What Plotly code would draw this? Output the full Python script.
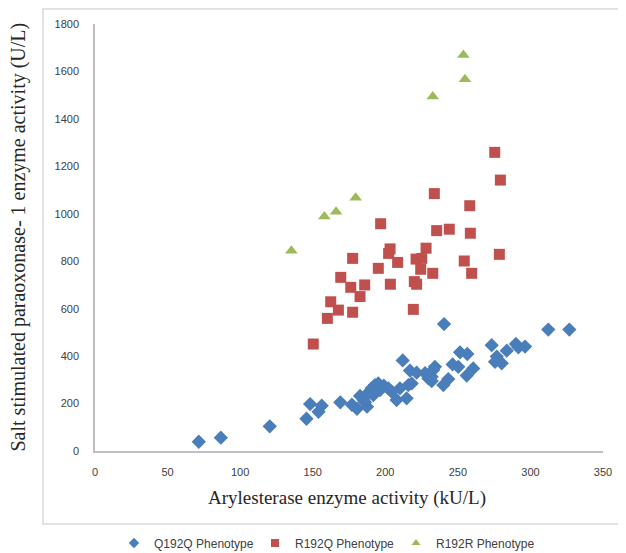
import plotly.graph_objects as go

# Q192Q phenotype (blue diamonds)
q192q_x = [71.5, 86.7, 120.4, 145.7, 148.2, 154.0, 156.2, 169.0, 177.0, 180.5,
           182.6, 185.0, 187.4, 188.3, 190.6, 192.9, 195.2, 191.8, 196.4, 202.1,
           204.4, 207.8, 210.1, 214.7, 215.9, 218.2, 212.0, 217.0, 221.6, 227.4,
           229.7, 232.0, 234.2, 231.9, 240.5, 312.3, 326.8, 273.3, 283.7, 290.0,
           291.7, 296.3, 276.8, 275.6, 280.2, 251.5, 256.5, 246.4, 250.3, 260.6,
           256.1, 243.4, 240.0, 199.0, 186.0, 233.0]
q192q_y = [39, 56, 104, 136, 198, 165, 191, 205, 195, 178,
           232, 215, 187, 246, 264, 278, 285, 236, 257, 264,
           250, 215, 264, 222, 278, 285, 382, 339, 330, 328,
           306, 295, 355, 313, 535, 512, 512, 446, 423, 451,
           437, 440, 398, 376, 370, 416, 409, 365, 355, 348,
           318, 303, 278, 275, 205, 341]

# R192Q phenotype (red squares)
r192q_x = [275.4, 279.3, 233.8, 258.2, 196.8, 235.4, 244.1, 258.6, 203.3, 202.3,
           228.1, 177.5, 278.6, 208.5, 195.2, 221.2, 225.1, 224.4, 232.7, 254.4,
           259.5, 169.3, 176.2, 185.8, 203.5, 220.0, 221.6, 182.6, 162.4, 167.7,
           177.5, 160.1, 219.3, 150.4]
r192q_y = [1259, 1142, 1085, 1034, 958, 929, 935, 918, 852, 833,
           855, 812, 829, 795, 770, 809, 812, 766, 749, 801,
           749, 732, 690, 700, 703, 714, 703, 651, 629, 594,
           585, 559, 597, 451]

# R192R phenotype (green triangles)
r192r_x = [135.3, 158.0, 166.1, 179.6, 232.7, 254.9, 253.8]
r192r_y = [844, 988, 1009, 1068, 1494, 1567, 1669]

series_names = ["Q192Q Phenotype", "R192Q Phenotype", "R192R Phenotype"]
series_colors = ["#4A7EBB", "#C0504D", "#9BBB59"]
series_symbols = ["diamond", "square", "triangle-up"]

x_ticks = [0, 50, 100, 150, 200, 250, 300, 350]
y_ticks = [0, 200, 400, 600, 800, 1000, 1200, 1400, 1600, 1800]

fig = go.Figure()
for xs, ys, name, col, sym in zip([q192q_x, r192q_x, r192r_x], [q192q_y, r192q_y, r192r_y],
                                  series_names, series_colors, series_symbols):
    fig.add_trace(go.Scatter(x=xs, y=ys, mode="markers", name=name, showlegend=False,
                             legendgroup=name,
                             marker=dict(symbol=sym, size=11, color=col)))
for name, col, sym in zip(series_names, series_colors, series_symbols):
    # legend-only entries with the smaller legend symbol size
    fig.add_trace(go.Scatter(x=[None], y=[None], mode="markers", name=name,
                             legendgroup=name,
                             marker=dict(symbol=sym, size=8, color=col)))

axis_font = dict(family="Liberation Sans, Arial, sans-serif", size=11, color="#404040")

W, H = 618, 545
L, R, T, B = 87, 23, 16, 102
plot_h = H - T - B

fig.update_layout(
    width=W, height=H,
    margin=dict(l=L, r=R, t=T, b=B),
    paper_bgcolor="white", plot_bgcolor="white",
    showlegend=True,
    legend=dict(orientation="h", x=(106 - L) / (W - L - R), xanchor="left",
                yref="container", y=(H - 535) / H, yanchor="middle",
                font=dict(family="Liberation Sans, Arial, sans-serif", size=12, color="#404040"),
                itemwidth=30, entrywidth=96, bgcolor="rgba(0,0,0,0)"),
    xaxis=dict(range=[0, 350], tickvals=x_ticks, showgrid=False, zeroline=False,
               showline=True, linecolor="#BFBFBF", linewidth=1.5, ticks="",
               tickfont=axis_font, ticklabelstandoff=10, automargin=False),
    yaxis=dict(range=[0, 1800], tickvals=y_ticks, showgrid=False, zeroline=False,
               showline=True, linecolor="#BFBFBF", linewidth=1.5, ticks="",
               tickfont=axis_font, ticklabelstandoff=12, automargin=False),
    shapes=[dict(type="rect", xref="paper", yref="paper",
                 x0=(35 - L) / (W - L - R), x1=1.2,
                 y0=(H - B - 516) / plot_h, y1=(H - B - 1) / plot_h,
                 line=dict(color="#D9D9D9", width=1.5), fillcolor="rgba(0,0,0,0)")],
    annotations=[
        dict(text="Arylesterase enzyme activity (kU/L)", xref="paper", yref="paper",
             x=(339 - L) / (W - L - R), y=(H - B - 490) / plot_h, xanchor="center", yanchor="middle",
             showarrow=False, font=dict(family="Liberation Serif, Times New Roman, serif",
                                        size=19, color="#262626")),
        dict(text="Salt stimulated paraoxonase- 1 enzyme activity (U/L)", xref="paper", yref="paper",
             x=(10 - L) / (W - L - R), y=0.5, xanchor="center", yanchor="middle", textangle=-90,
             showarrow=False, font=dict(family="Liberation Serif, Times New Roman, serif",
                                        size=20, color="#262626")),
    ],
)

fig.write_html("out.html")
